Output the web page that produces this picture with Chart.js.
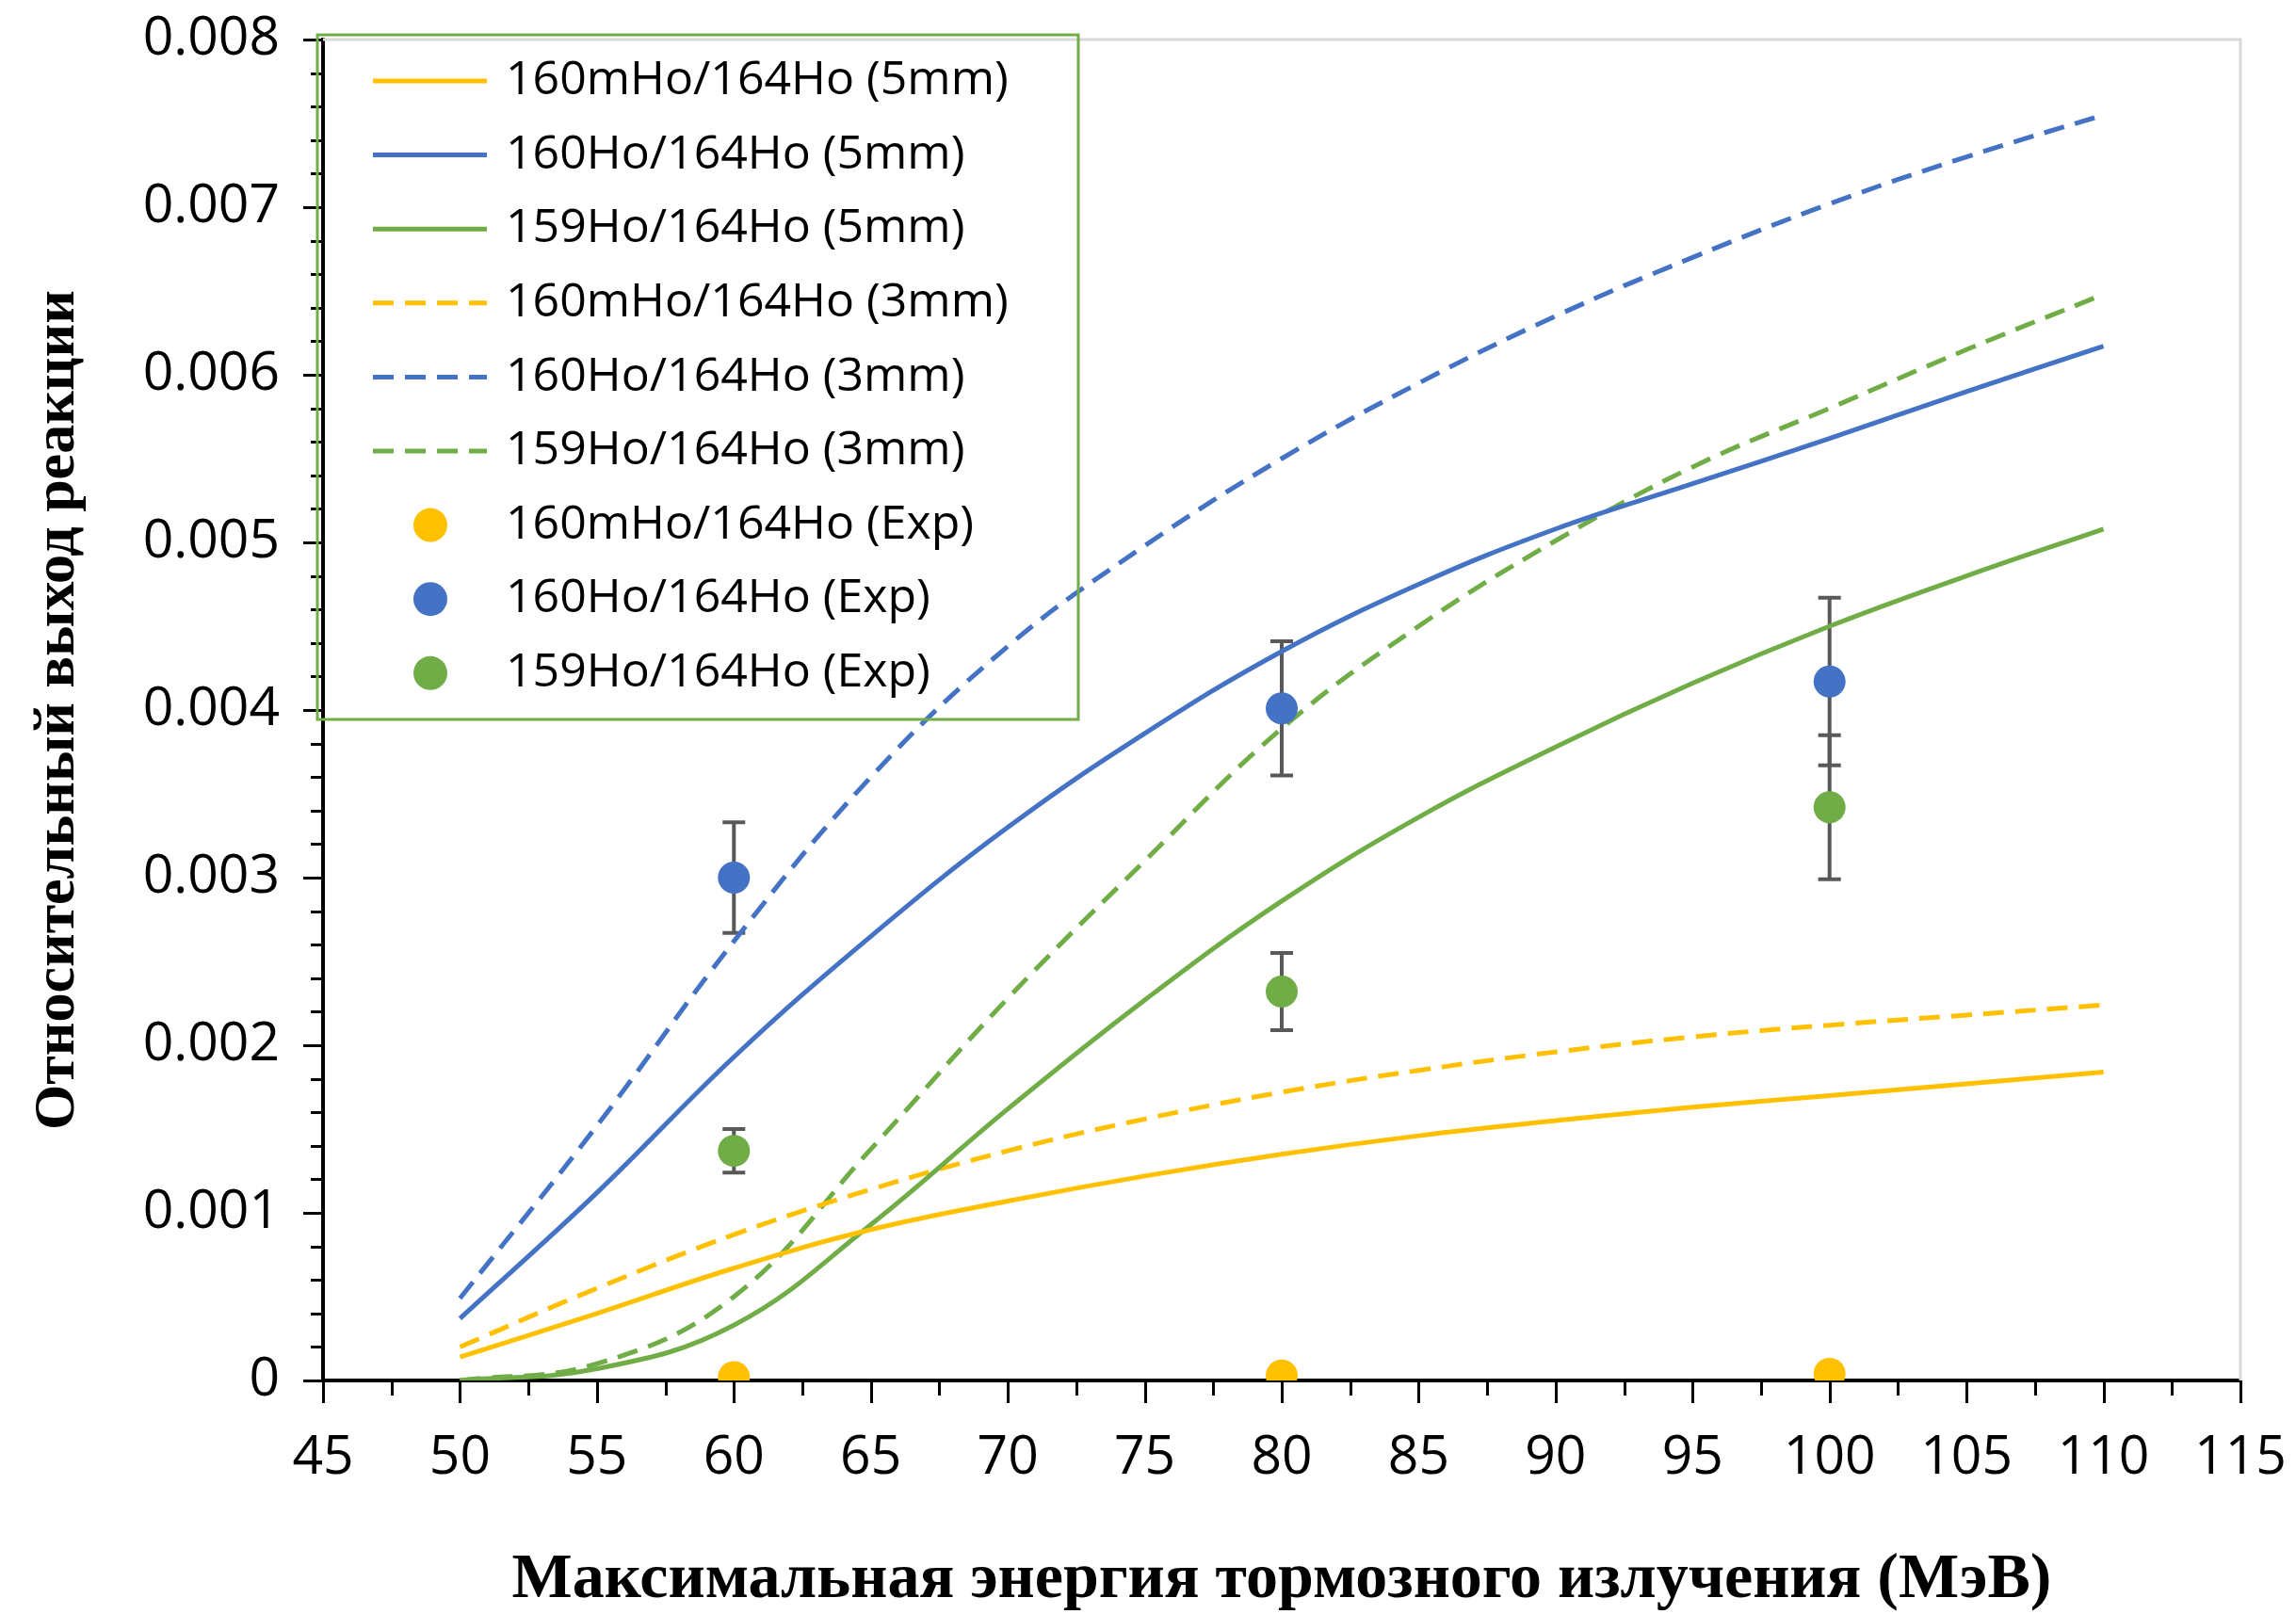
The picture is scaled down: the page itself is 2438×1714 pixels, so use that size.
<!DOCTYPE html>
<html>
<head>
<meta charset="utf-8">
<script src="https://cdn.jsdelivr.net/npm/chart.js@4.4.1/dist/chart.umd.min.js"></script>
<style>
html,body{margin:0;padding:0;background:#fff}
#wrap{width:2438px;height:1714px}
</style>
</head>
<body>
<div id="wrap"><canvas id="c" width="2438" height="1714"></canvas></div>
<script>
// Data
const energy = [50,55,60,65,70,75,80,85,90,95,100,105,110];
const m160_5mm = [0.00014,0.0004,0.00067,0.0009,0.00107,0.00122,0.00135,0.00146,0.00155,0.00163,0.0017,0.00177,0.00184];
const ho160_5mm = [0.00037,0.00112,0.00193,0.00265,0.0033,0.00386,0.00435,0.00475,0.00508,0.00535,0.00562,0.0059,0.00617];
const ho159_5mm = [0.0,0.00007,0.00033,0.00093,0.00162,0.00227,0.00286,0.00336,0.00378,0.00416,0.0045,0.0048,0.00508];
const m160_3mm = [0.0002,0.00055,0.00087,0.00114,0.00137,0.00156,0.00172,0.00185,0.00196,0.00205,0.00212,0.00218,0.00224];
const ho160_3mm = [0.00049,0.00152,0.00262,0.0036,0.00438,0.00498,0.0055,0.00595,0.00635,0.0067,0.00702,0.0073,0.00755];
const ho159_3mm = [0.0,0.0001,0.0005,0.00138,0.00228,0.0031,0.00389,0.0045,0.00501,0.00545,0.0058,0.00615,0.00648];

const expEnergy = [60,80,100];
const m160_exp = [0.00002,0.00003,0.00004];
const ho160_exp = [0.0030,0.00401,0.00417];
const ho160_err = [0.00033,0.0004,0.0005];
const ho159_exp = [0.00137,0.00232,0.00342];
const ho159_err = [0.00013,0.00023,0.00043];

const xTickValues = [45,50,55,60,65,70,75,80,85,90,95,100,105,110,115];
const yTickValues = [0,0.001,0.002,0.003,0.004,0.005,0.006,0.007,0.008];

const YELLOW='#FFC000', BLUE='#4472C4', GREEN='#70AD47';
const DASH=[22,12];

function pts(xs, ys){ return xs.map((x,i)=>({x, y:ys[i]})); }
function curve(label, ys, color, dashed){
  return {label, data:pts(energy, ys), borderColor:color, backgroundColor:color, showLine:true,
    borderWidth:5, borderDash:dashed?DASH:[], pointRadius:0, tension:0.4, order:2};
}
function exp(label, ys, color, errs){
  return {label, data:pts(expEnergy, ys), borderColor:color, backgroundColor:color, showLine:false,
    pointRadius:17, pointBorderWidth:0, pointHoverRadius:17, errors:errs, order:0};
}

// major + minor tick marks outside the axes
const axisTicks = {
  id:'axisTicks',
  afterDraw(chart){
    const {ctx, chartArea:a, scales:{x,y}} = chart;
    ctx.save(); ctx.strokeStyle='#000'; ctx.lineWidth=3;
    ctx.beginPath();
    for(let i=0;i<=40;i++){
      const v=i*0.0002, py=Math.round(y.getPixelForValue(v))+0.5;
      const len = i%5===0 ? 21 : 13;
      ctx.moveTo(a.left-len,py); ctx.lineTo(a.left,py);
    }
    for(let i=0;i<=28;i++){
      const v=45+i*2.5, px=Math.round(x.getPixelForValue(v))+0.5;
      const len = i%2===0 ? 24 : 16;
      ctx.moveTo(px,a.bottom); ctx.lineTo(px,a.bottom+len);
    }
    ctx.stroke(); ctx.restore();
  }
};

const frame = {
  id:'frame',
  beforeDatasetsDraw(chart){
    const {ctx, chartArea:a} = chart;
    ctx.save(); ctx.strokeStyle='#d9d9d9'; ctx.lineWidth=3;
    ctx.beginPath(); ctx.moveTo(a.left,a.top); ctx.lineTo(a.right,a.top); ctx.lineTo(a.right,a.bottom); ctx.stroke();
    ctx.restore();
  }
};

const errorBars = {
  id:'errorBars',
  beforeDatasetsDraw(chart){
    const {ctx, scales:{x,y}} = chart;
    ctx.save(); ctx.strokeStyle='#595959'; ctx.lineWidth=4;
    chart.data.datasets.forEach(ds=>{
      if(!ds.errors) return;
      ds.data.forEach((p,i)=>{
        const e=ds.errors[i], px=x.getPixelForValue(p.x);
        const t=y.getPixelForValue(p.y+e), b=y.getPixelForValue(p.y-e);
        ctx.beginPath();
        ctx.moveTo(px,t); ctx.lineTo(px,b);
        ctx.moveTo(px-12,t); ctx.lineTo(px+12,t);
        ctx.moveTo(px-12,b); ctx.lineTo(px+12,b);
        ctx.stroke();
      });
    });
    ctx.restore();
  }
};

const legendBox = {
  id:'legendBox',
  afterDraw(chart){
    const {ctx, chartArea:a} = chart;
    const x0=a.left-6, y0=a.top-5;
    ctx.save();
    ctx.strokeStyle=GREEN; ctx.lineWidth=3;
    ctx.strokeRect(x0,y0,808,727);
    ctx.font='50px "Open Sans"'; ctx.textBaseline='middle'; ctx.fillStyle='#000';
    chart.data.datasets.forEach((ds,i)=>{
      const cy=y0+49+i*78.6;
      if(ds.showLine===false){
        ctx.fillStyle=ds.backgroundColor; ctx.beginPath(); ctx.arc(x0+120,cy,18,0,Math.PI*2); ctx.fill();
      } else {
        ctx.strokeStyle=ds.borderColor; ctx.lineWidth=5; ctx.setLineDash(ds.borderDash);
        ctx.beginPath(); ctx.moveTo(x0+59,cy); ctx.lineTo(x0+180,cy); ctx.stroke(); ctx.setLineDash([]);
      }
      ctx.fillStyle='#000'; ctx.fillText(ds.label, x0+200, cy);
    });
    ctx.restore();
  }
};

const tickFont={family:'"Open Sans"', size:57};
const hidden='rgba(0,0,0,0)';

new Chart(document.getElementById('c'), {
  type:'scatter',
  data:{datasets:[
    curve('160mHo/164Ho (5mm)', m160_5mm, YELLOW, false),
    curve('160Ho/164Ho (5mm)', ho160_5mm, BLUE, false),
    curve('159Ho/164Ho (5mm)', ho159_5mm, GREEN, false),
    curve('160mHo/164Ho (3mm)', m160_3mm, YELLOW, true),
    curve('160Ho/164Ho (3mm)', ho160_3mm, BLUE, true),
    curve('159Ho/164Ho (3mm)', ho159_3mm, GREEN, true),
    exp('160mHo/164Ho (Exp)', m160_exp, YELLOW, null),
    exp('160Ho/164Ho (Exp)', ho160_exp, BLUE, ho160_err),
    exp('159Ho/164Ho (Exp)', ho159_exp, GREEN, ho159_err)
  ]},
  options:{
    responsive:false, animation:false, devicePixelRatio:1,
    layout:{padding:{top:42,right:59,bottom:0,left:0}},
    plugins:{legend:{display:false}, tooltip:{enabled:false}},
    scales:{
      x:{type:'linear', min:45, max:115,
        afterBuildTicks:s=>{ s.ticks=xTickValues.map(v=>({value:v})); },
        afterFit:s=>{ s.height=248; },
        grid:{display:true, drawOnChartArea:false, drawTicks:true, tickLength:49, tickColor:hidden},
        border:{display:true, color:'#000', width:4},
        ticks:{color:'#000', font:tickFont, padding:0, maxRotation:0, autoSkip:false, callback:v=>String(v)},
        title:{display:true, text:'Максимальная энергия тормозного излучения (МэВ)', color:'#000',
          font:{family:'"Liberation Serif"', size:68, weight:'bold', lineHeight:1.05}, padding:{top:0,bottom:0}}
      },
      y:{type:'linear', min:0, max:0.008,
        afterBuildTicks:s=>{ s.ticks=yTickValues.map(v=>({value:v})); },
        afterFit:s=>{ s.width=343; },
        grid:{display:true, drawOnChartArea:false, drawTicks:true, tickLength:46, tickColor:hidden},
        border:{display:true, color:'#000', width:4},
        ticks:{color:'#000', font:tickFont, padding:0, autoSkip:false, callback:v=>v===0?'0':v.toFixed(3)},
        title:{display:true, text:'Относительный выход реакции', color:'#000',
          font:{family:'"Liberation Serif"', size:62, weight:'bold'}, padding:{top:25,bottom:0}}
      }
    }
  },
  plugins:[frame, errorBars, axisTicks, legendBox]
});
</script>
</body>
</html>
